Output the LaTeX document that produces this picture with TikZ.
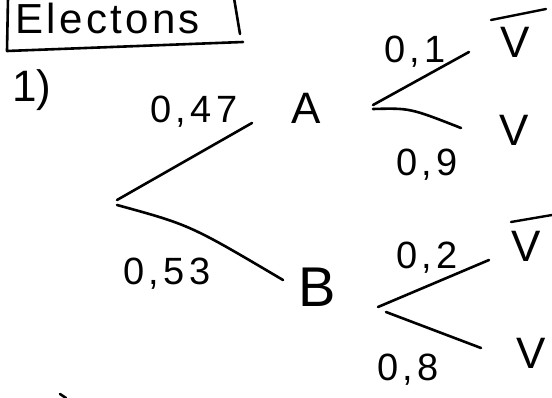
\documentclass[tikz,border=0pt]{standalone}
\usepackage{fontspec}
\setmainfont{Liberation Sans}
\begin{document}
\begin{tikzpicture}[x=1pt,y=-1pt,line width=2.6pt,line cap=round,line join=round,
  lbl/.style={inner sep=0pt,font=\fontsize{38}{38}\selectfont\addfontfeature{LetterSpace=12}},
  big/.style={inner sep=0pt,font=\fontsize{44}{44}\selectfont},
  branch/.style={line width=2.6pt},
  vbar/.style={line width=2.4pt}]
\useasboundingbox (0,0) rectangle (552,398);
% title box
\node[inner sep=0pt,anchor=base west,font=\fontsize{42}{42}\selectfont\addfontfeature{LetterSpace=8}] (title) at (14,34) {Electons};
\coordinate (t1) at (8,-2);
\coordinate (t2) at (7,51);
\coordinate (t3) at (243,42);
\coordinate (t4) at (234,-2);
\coordinate (t5) at (240,34);
\draw (t1) -- (t2) -- (t3);
\draw (t4) -- (t5);
% question number
\node[big] (q) at (32,90) {1)};
% first level
\coordinate (r1) at (117,200);
\coordinate (r2) at (117,205);
\coordinate (ae) at (252,123);
\coordinate (be) at (283,280);
\node[big] (A) at (306,108) {A};
\node[inner sep=0pt,font=\fontsize{56}{56}\selectfont] (B) at (317,287) {B};
\draw[branch] (r1) -- (ae);
\draw[branch] (r2) .. controls (190,225) .. (be);
\node[lbl] (p47) at (194,112) {0,47};
\node[lbl] (p53) at (167,274) {0,53};
% branches from A
\coordinate (a1s) at (373,105);
\coordinate (a1e) at (469,52);
\coordinate (a2s) at (373,109);
\coordinate (a2e) at (461,128);
\draw[branch] (a1s) -- (a1e);
\draw[branch] (a2s) .. controls (410,108) .. (a2e);
\node[lbl] (p1) at (415,52) {0,1};
\node[lbl] (p9) at (427,165) {0,9};
\node[big] (vA1) at (515,42) {V};
\node[big] (vA2) at (514,130) {V};
\coordinate (bA1) at (491,20);
\coordinate (bA2) at (546,9);
\draw[vbar] (bA1) -- (bA2);
% branches from B
\coordinate (b1s) at (378,307);
\coordinate (b1e) at (489,260);
\coordinate (b2s) at (386,312);
\coordinate (b2e) at (481,348);
\draw[branch] (b1s) -- (b1e);
\draw[branch] (b2s) -- (b2e);
\node[lbl] (p2) at (427,258) {0,2};
\node[lbl] (p8) at (408,370) {0,8};
\node[big] (vB1) at (526,246) {V};
\node[big] (vB2) at (531,353) {V};
\coordinate (bB1) at (511,222);
\coordinate (bB2) at (552,215);
\draw[vbar] (bB1) -- (bB2);
% small mark at bottom
\coordinate (m1) at (60,394);
\coordinate (m2) at (66,398);
\draw (m1) -- (m2);
\end{tikzpicture}
\end{document}
